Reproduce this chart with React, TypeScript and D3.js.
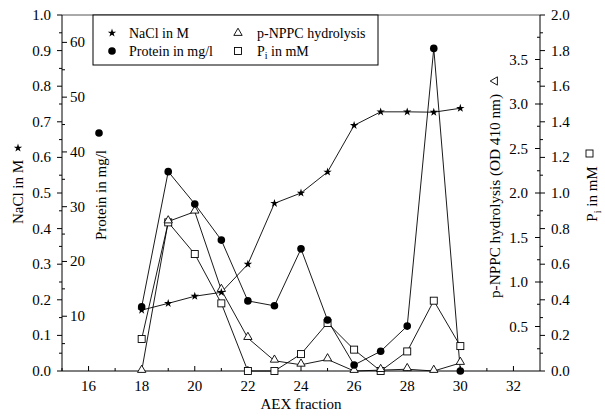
import React from "react";
import * as d3 from "d3";

const fractions = [18, 19, 20, 21, 22, 23, 24, 25, 26, 27, 28, 29, 30];
const nacl = [0.171, 0.19, 0.21, 0.221, 0.3, 0.471, 0.5, 0.559, 0.69, 0.728, 0.728, 0.727, 0.738];
const protein = [11.7, 36.4, 30.5, 23.9, 12.8, 11.9, 22.3, 9.3, 1.1, 3.6, 8.2, 58.9, 0];
const pnppc = [0, 1.68, 1.79, 0.91, 0.37, 0.115, 0.07, 0.13, 0, 0.01, 0.02, 0, 0.09];
const pi = [0.18, 0.835, 0.657, 0.38, 0, 0, 0.095, 0.27, 0.12, 0, 0.11, 0.395, 0.14];

const xTicks = [16, 18, 20, 22, 24, 26, 28, 30, 32];
const naclTicks = [0, 0.1, 0.2, 0.3, 0.4, 0.5, 0.6, 0.7, 0.8, 0.9, 1.0];
const proteinTicks = [10, 20, 30, 40, 50, 60];
const pnppcTicks = [0.5, 1.0, 1.5, 2.0, 2.5, 3.0, 3.5];
const piTicks = [0, 0.2, 0.4, 0.6, 0.8, 1.0, 1.2, 1.4, 1.6, 1.8, 2.0];

const FONT = "'Liberation Serif', 'Times New Roman', serif";

export default function App() {
  const L = 62, R = 540, T = 15, B = 371;
  const x = d3.scaleLinear().domain([15, 33]).range([L, R]);
  const yN = d3.scaleLinear().domain([0, 1]).range([B, T]);
  const yP = d3.scaleLinear().domain([0, 65]).range([B, T]);
  const yH = d3.scaleLinear().domain([0, 4]).range([B, T]);
  const yI = d3.scaleLinear().domain([0, 2]).range([B, T]);

  const mk = (vals: number[], y: d3.ScaleLinear<number, number>) =>
    d3.line<number>().x((_, i) => x(fractions[i])).y((v) => y(v))(vals) || "";

  const star = d3.symbol().type(d3.symbolStar).size(22)() || "";
  const tri = d3.symbol().type(d3.symbolTriangle).size(30)() || "";

  const naclMinor = d3.range(0, 1.0001, 0.05);
  const protMinor = d3.range(5, 65, 10);
  const pnMinor = d3.range(0.25, 4, 0.5);
  const piMinor = d3.range(0.1, 2, 0.2);
  const xMinor = d3.range(15, 33, 1);

  const stroke = "#000";
  return (
    <div style={{ position: "fixed", left: 0, top: 0 }}>
      <svg width={605} height={417} style={{ display: "block", background: "#fff" }} fontFamily={FONT}>
        {/* frame */}
        <line x1={L} x2={R} y1={T} y2={T} stroke="#555" strokeWidth={1} />
        <line x1={L} x2={R} y1={B} y2={B} stroke={stroke} strokeWidth={1} />
        <line x1={L} x2={L} y1={T} y2={B} stroke={stroke} strokeWidth={1} />
        <line x1={R} x2={R} y1={T} y2={B} stroke={stroke} strokeWidth={1} />

        {/* x ticks */}
        {xMinor.map((t) => (
          <line key={"xm" + t} x1={x(t)} x2={x(t)} y1={B} y2={B - (t % 2 === 0 ? 5 : 3)} stroke={stroke} />
        ))}
        {xTicks.map((t) => (
          <text key={"xt" + t} x={x(t)} y={391} fontSize={15} textAnchor="middle">{t}</text>
        ))}
        <text x={x(24)} y={409} fontSize={15} textAnchor="middle">AEX fraction</text>

        {/* NaCl axis (left, outward) */}
        {naclMinor.map((t, i) => (
          <line key={"nm" + i} x1={L} x2={L - (i % 2 === 0 ? 5 : 3)} y1={yN(t)} y2={yN(t)} stroke={stroke} />
        ))}
        {naclTicks.map((t) => (
          <text key={"nt" + t} x={51} y={yN(t) + 5} fontSize={15} textAnchor="end">{t.toFixed(1)}</text>
        ))}
        <g transform={`translate(23, 192) rotate(-90)`}>
          <text x={0} y={0} fontSize={15} textAnchor="middle">NaCl in M</text>
        </g>
        <path d={star} transform={`translate(18, 148)`} fill="#000" />

        {/* Protein axis (left, inward) */}
        {protMinor.map((t) => (
          <line key={"pm" + t} x1={L} x2={L + 3} y1={yP(t)} y2={yP(t)} stroke={stroke} />
        ))}
        {proteinTicks.map((t) => (
          <g key={"pt" + t}>
            <line x1={L} x2={L + 5} y1={yP(t)} y2={yP(t)} stroke={stroke} />
            <text x={70} y={yP(t) + 5} fontSize={15} textAnchor="start">{t}</text>
          </g>
        ))}
        <g transform={`translate(106, 195) rotate(-90)`}>
          <text x={0} y={0} fontSize={15} textAnchor="middle">Protein in mg/l</text>
        </g>
        <circle cx={99} cy={133} r={3.8} fill="#000" />

        {/* p-NPPC axis (right, inward) */}
        {pnMinor.map((t) => (
          <line key={"hm" + t} x1={R} x2={R - 3} y1={yH(t)} y2={yH(t)} stroke={stroke} />
        ))}
        {pnppcTicks.map((t) => (
          <g key={"ht" + t}>
            <line x1={R} x2={R - 5} y1={yH(t)} y2={yH(t)} stroke={stroke} />
            <text x={528} y={yH(t) + 5} fontSize={15} textAnchor="end">{t.toFixed(1)}</text>
          </g>
        ))}
        <g transform={`translate(500, 298) rotate(-90)`}>
          <text x={0} y={0} fontSize={15} textAnchor="start" textLength={204} lengthAdjust="spacingAndGlyphs">p-NPPC hydrolysis (OD 410 nm)</text>
        </g>
        <path d={tri} transform={`translate(495, 81) rotate(-90)`} fill="none" stroke="#000" strokeWidth={0.9} />

        {/* Pi axis (right, outward) */}
        {piMinor.map((t) => (
          <line key={"im" + t} x1={R} x2={R + 3} y1={yI(t)} y2={yI(t)} stroke={stroke} />
        ))}
        {piTicks.map((t) => (
          <g key={"it" + t}>
            <line x1={R} x2={R + 5} y1={yI(t)} y2={yI(t)} stroke={stroke} />
            <text x={551} y={yI(t) + 5} fontSize={15} textAnchor="start">{t.toFixed(1)}</text>
          </g>
        ))}
        <g transform={`translate(597, 194) rotate(-90)`}>
          <text x={0} y={0} fontSize={15} textAnchor="middle">
            P<tspan fontSize={10} dy={4}>i</tspan><tspan dy={-4}> in mM</tspan>
          </text>
        </g>
        <rect x={586} y={150} width={7} height={7} fill="none" stroke="#000" strokeWidth={0.9} />

        {/* series lines */}
        <path d={mk(nacl, yN)} fill="none" stroke="#000" strokeWidth={0.9} />
        <path d={mk(protein, yP)} fill="none" stroke="#000" strokeWidth={0.9} />
        <path d={mk(pnppc, yH)} fill="none" stroke="#000" strokeWidth={0.9} />
        <path d={mk(pi, yI)} fill="none" stroke="#000" strokeWidth={0.9} />

        {/* markers */}
        {pi.map((v, i) => (
          <rect key={"sq" + i} x={x(fractions[i]) - 3.5} y={yI(v) - 3.5} width={7} height={7} fill="#fff" stroke="#000" strokeWidth={0.9} />
        ))}
        {pnppc.map((v, i) => (
          <path key={"tr" + i} d={tri} transform={`translate(${x(fractions[i])}, ${yH(v) - 1})`} fill="#fff" stroke="#000" strokeWidth={0.9} />
        ))}
        {protein.map((v, i) => (
          <circle key={"c" + i} cx={x(fractions[i])} cy={yP(v)} r={3.8} fill="#000" />
        ))}
        {nacl.map((v, i) => (
          <path key={"st" + i} d={star} transform={`translate(${x(fractions[i])}, ${yN(v)})`} fill="#000" />
        ))}

        {/* legend */}
        <rect x={93} y={T} width={285} height={50} fill="#fff" stroke="#000" strokeWidth={1} />
        <path d={star} transform="translate(112, 33)" fill="#000" />
        <text x={129} y={38} fontSize={14}>NaCl in M</text>
        <circle cx={112} cy={51} r={3.8} fill="#000" />
        <text x={129} y={56} fontSize={14}>Protein in mg/l</text>
        <path d={tri} transform="translate(238, 33)" fill="none" stroke="#000" strokeWidth={0.9} />
        <text x={257} y={38} fontSize={14}>p-NPPC hydrolysis</text>
        <rect x={234.5} y={47.5} width={7} height={7} fill="none" stroke="#000" strokeWidth={0.9} />
        <text x={257} y={56} fontSize={14}>
          P<tspan fontSize={10} dy={3}>i</tspan><tspan dy={-3}> in mM</tspan>
        </text>
      </svg>
    </div>
  );
}
